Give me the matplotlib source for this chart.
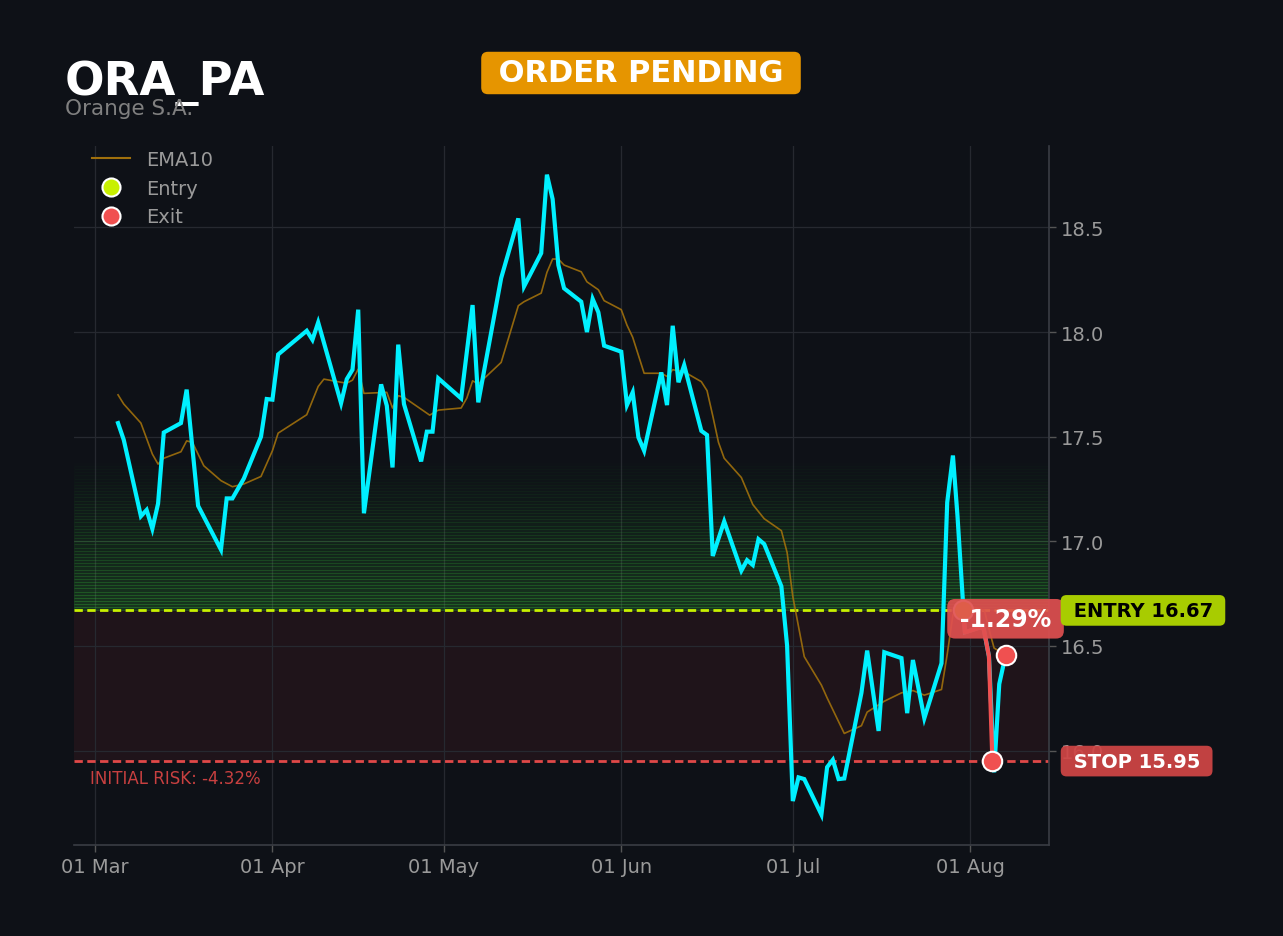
import matplotlib
matplotlib.use("Agg")
import matplotlib.pyplot as plt
import matplotlib.dates as mdates
import matplotlib.transforms as mtransforms
from matplotlib.lines import Line2D
import pandas as pd
import numpy as np

# ---------------- data ----------------
ticker = "ORA_PA"
company = "Orange S.A."
status = "ORDER PENDING"
start_date = "2024-03-01"

price_days = [4, 5, 8, 9, 10, 11, 12, 15, 16, 18, 22, 23, 24, 26, 29, 30, 31, 32, 37, 38,
              39, 43, 44, 45, 46, 47, 50, 51, 52, 53, 54, 57, 58, 59, 60, 64, 66, 67, 71, 74,
              75, 78, 79, 80, 81, 82, 85, 86, 87, 88, 89, 92, 93, 94, 95, 96, 99, 100, 101, 102,
              103, 106, 107, 108, 110, 113, 114, 115, 116, 117, 120, 121, 122, 123, 124, 127, 128, 129, 130, 131,
              134, 135, 137, 138, 141, 142, 143, 145, 148, 149, 150, 150.8, 151.8, 152.1, 154.9, 155.4, 156.3, 157.2, 158.1, 159.2]
price_vals = [17.565, 17.485, 17.12, 17.15, 17.06, 17.18, 17.52, 17.565, 17.725, 17.17,
              16.96, 17.205, 17.205, 17.30, 17.50, 17.68, 17.677, 17.893, 18.006, 17.963,
              18.046, 17.66, 17.775, 17.82, 18.107, 17.134, 17.75, 17.648, 17.353, 17.94,
              17.656, 17.382, 17.524, 17.524, 17.779, 17.683, 18.129, 17.664, 18.258, 18.543,
              18.218, 18.377, 18.752, 18.635, 18.32, 18.209, 18.145, 18.0, 18.158, 18.094,
              17.935, 17.906, 17.651, 17.712, 17.497, 17.433, 17.807, 17.651, 18.03, 17.76,
              17.842, 17.528, 17.508, 16.93, 17.095, 16.86, 16.91, 16.887, 17.01, 16.987,
              16.785, 16.502, 15.759, 15.872, 15.864, 15.694, 15.921, 15.956, 15.864, 15.867,
              16.276, 16.478, 16.094, 16.47, 16.442, 16.179, 16.433, 16.155, 16.417, 17.186,
              17.41, 17.12, 16.69, 16.565, 16.59, 16.58, 16.45, 15.896, 16.318, 16.455]

ema_days = [4, 5, 8, 10, 11, 12, 15, 16, 17, 19, 22, 24, 26, 29, 31, 32, 37, 39, 40, 43,
            44, 45, 46, 47, 51, 52, 53, 54, 58.5, 60, 64, 65, 66, 67, 71, 74, 75, 78, 79, 80,
            81, 82, 85, 86, 88, 89, 92, 93, 94, 96, 99, 100, 101, 103, 106, 107, 108, 109, 110, 113,
            115, 117, 120, 121, 122, 124, 127, 128, 131, 134, 135, 138, 141, 143, 145, 148, 149, 150,
            151, 153, 155.5, 156.5, 157.2, 158.1, 159.2]
ema_vals = [17.70, 17.656, 17.565, 17.417, 17.369, 17.397, 17.428, 17.48, 17.473, 17.361,
            17.29, 17.261, 17.274, 17.31, 17.433, 17.517, 17.605, 17.74, 17.775, 17.76,
            17.756, 17.77, 17.823, 17.707, 17.712, 17.637, 17.696, 17.688, 17.603, 17.627,
            17.637, 17.685, 17.767, 17.752, 17.855, 18.126, 18.145, 18.186, 18.285, 18.349,
            18.349, 18.32, 18.288, 18.24, 18.202, 18.15, 18.107, 18.033, 17.975, 17.803,
            17.803, 17.788, 17.82, 17.81, 17.763, 17.72, 17.6, 17.473, 17.397, 17.305,
            17.176, 17.108, 17.051, 16.947, 16.736, 16.449, 16.313, 16.252, 16.082, 16.119,
            16.184, 16.236, 16.276, 16.287, 16.265, 16.292, 16.46, 16.648,
            16.70, 16.69, 16.67, 16.56, 16.49, 16.475, 16.455]

trade_days = [151.8, 152.1, 154.9, 155.4, 156.3, 156.9]
trade_vals = [16.67, 16.565, 16.59, 16.58, 16.45, 15.95]

entry_price = 16.67
stop_price = 15.95
target_top = 17.42
entry_day = 151.8
exit_days = [156.9, 159.2]
exit_vals = [15.95, 16.455]
pnl_label = "-1.29%"
risk_label = "INITIAL RISK: -4.32%"
y_ticks = [16.0, 16.5, 17.0, 17.5, 18.0, 18.5]

# ---------------- helpers ----------------
base = pd.Timestamp(start_date)
def to_dates(days):
    return base + pd.to_timedelta(np.asarray(days, dtype=float), unit="D")

BG = "#0e1117"
CYAN = "#00f0ff"
EMA_C = "#a0700c"
ENTRY_C = "#c8f000"
EXIT_C = "#f05050"
GRID = "#262930"
TXT = "#9a9a9a"
TS = "\u2009"  # thin space for wider label boxes

fig = plt.figure(figsize=(12.83, 9.37), dpi=100, facecolor=BG)
ax = fig.add_axes([74 / 1283, 1 - 846 / 937, (1049 - 74) / 1283, (846 - 147) / 937])
ax.set_facecolor(BG)

# zones
ax.axhspan(stop_price, entry_price, color="#ef4444", alpha=0.08, lw=0, zorder=0.5)
n_bands = 50
edges = np.linspace(entry_price, target_top, n_bands + 1)
for i in range(n_bands):
    a = 0.2 * (1 - i / n_bands) ** 1.3
    ax.axhspan(edges[i], edges[i + 1], facecolor="#3cc83c", edgecolor="#3cc83c",
               alpha=a, lw=0.6, zorder=0.6)

# lines
ax.axhline(entry_price, color=ENTRY_C, lw=2, ls=(0, (3, 1.6)), zorder=2)
ax.axhline(stop_price, color="#e04848", lw=2, ls=(0, (3, 1.6)), zorder=2)

ax.plot(to_dates(ema_days), ema_vals, color=EMA_C, lw=1.2, alpha=0.9, zorder=2.5)
ax.plot(to_dates(price_days), price_vals, color=CYAN, lw=3, zorder=3, solid_joinstyle="miter")
ax.plot(to_dates(trade_days), trade_vals, color=EXIT_C, lw=3, zorder=3.5)

ax.plot(to_dates([entry_day]), [entry_price], "o", ms=14, mfc=ENTRY_C, mec="white", mew=1.5, zorder=5)
ax.plot(to_dates(exit_days), exit_vals, "o", ms=14, mfc=EXIT_C, mec="white", mew=1.5, zorder=5, ls="none")

# pnl label
ax.text(to_dates([exit_days[1]])[0], 16.63, TS + pnl_label + TS, color="white", fontsize=17,
        fontweight="bold", ha="center", va="center", zorder=7,
        bbox=dict(boxstyle="round,pad=0.33", fc="#e05050", ec="none", alpha=0.92))

# right-side labels
trans = mtransforms.blended_transform_factory(ax.transAxes, ax.transData)
ax.text(1.018, entry_price, " " + f"ENTRY {entry_price:.2f}" + " ", transform=trans, color="black",
        fontsize=14, fontweight="bold", ha="left", va="center", clip_on=False, zorder=7,
        bbox=dict(boxstyle="round,pad=0.3", fc="#a8cc00", ec="none"))
ax.text(1.018, stop_price, " " + f"STOP {stop_price:.2f}" + " ", transform=trans, color="white",
        fontsize=14, fontweight="bold", ha="left", va="center", clip_on=False, zorder=7,
        bbox=dict(boxstyle="round,pad=0.3", fc="#d04545", ec="none", alpha=0.93))
ax.text(0.016, 15.868, risk_label, transform=trans, color="#c84040", fontsize=12,
        ha="left", va="center", zorder=6)

# axes styling
ax.set_xlim(base - pd.Timedelta(days=3.7), base + pd.Timedelta(days=166.8))
ax.set_ylim(15.549, 18.889)
ax.xaxis.set_major_locator(mdates.MonthLocator())
ax.xaxis.set_major_formatter(mdates.DateFormatter("%d %b"))
ax.yaxis.tick_right()
ax.set_yticks(y_ticks)
ax.set_yticklabels([f"{v:.1f}" for v in y_ticks])
ax.tick_params(colors=TXT, labelsize=14, length=5, width=1)
ax.tick_params(axis="x", colors="#555", labelcolor=TXT)
ax.tick_params(axis="y", colors="#555", labelcolor=TXT)
ax.grid(True, color=GRID, lw=0.9)
ax.set_axisbelow(True)
for s in ["left", "top"]:
    ax.spines[s].set_visible(False)
for s in ["right", "bottom"]:
    ax.spines[s].set_color("#3a3d44")
    ax.spines[s].set_linewidth(1.2)

# legend
handles = [
    Line2D([], [], color=EMA_C, lw=1.5),
    Line2D([], [], marker="o", ls="none", ms=13, mfc=ENTRY_C, mec="white", mew=1.5),
    Line2D([], [], marker="o", ls="none", ms=13, mfc=EXIT_C, mec="white", mew=1.5),
]
ax.legend(handles, ["EMA10", "Entry", "Exit"], loc="upper left", bbox_to_anchor=(0.0, 1.0195),
          frameon=False, fontsize=14, labelcolor=TXT)

# titles
fig.text(65 / 1283, 1 - 95 / 937, ticker, color="white", fontsize=33.5, fontweight="bold",
         ha="left", va="baseline")
fig.text(65 / 1283, 1 - 115 / 937, company, color="#808080", fontsize=15.5,
         ha="left", va="baseline")
fig.text(641 / 1283, 1 - 74 / 937, " " + status + " ", color="white", fontsize=22, fontweight="bold",
         ha="center", va="center",
         bbox=dict(boxstyle="round,pad=0.22", fc="#e69500", ec="none"))

fig.savefig("out.png", dpi=100, facecolor=BG)
